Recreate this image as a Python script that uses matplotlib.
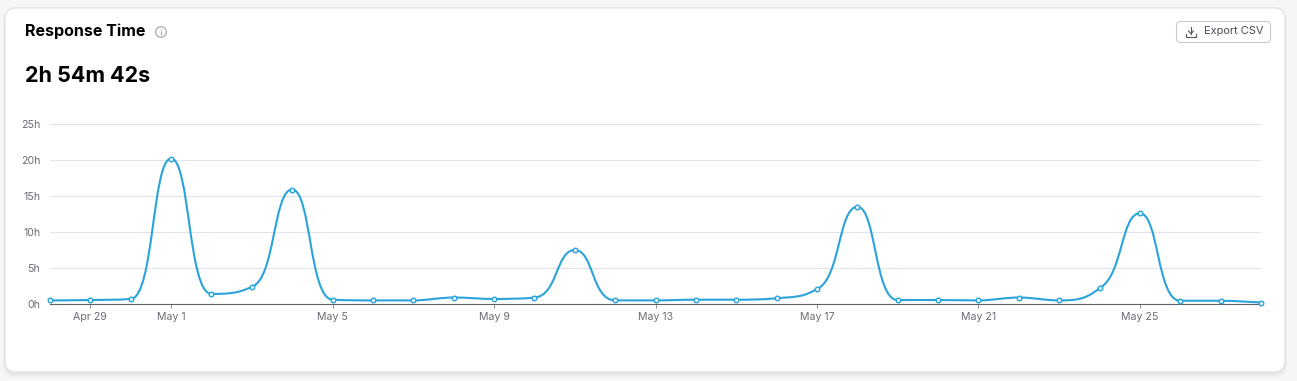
import matplotlib
matplotlib.use("Agg")
import matplotlib.pyplot as plt
import matplotlib.dates as mdates
from matplotlib.patches import FancyBboxPatch, Circle, PathPatch
from matplotlib.path import Path
from datetime import datetime, timedelta

plt.rcParams['font.family'] = ['Inter', 'DejaVu Sans']

W, H = 1297, 381

# one value per day, in hours
start_day = datetime(2024, 4, 28)
hours = [0.5, 0.55, 0.7, 20.2, 1.4, 2.4, 15.9, 0.6, 0.5, 0.5, 0.9, 0.7, 0.9, 7.5, 0.5, 0.5,
         0.6, 0.6, 0.8, 2.1, 13.5, 0.55, 0.55, 0.5, 0.9, 0.5, 2.2, 12.6, 0.45, 0.45, 0.2]
days = [start_day + timedelta(days=i) for i in range(len(hours))]

y_ticks = [0, 5, 10, 15, 20, 25]
y_labels = ["0h", "5h", "10h", "15h", "20h", "25h"]
x_tick_days = [datetime(2024, 4, 29), datetime(2024, 5, 1), datetime(2024, 5, 5), datetime(2024, 5, 9),
               datetime(2024, 5, 13), datetime(2024, 5, 17), datetime(2024, 5, 21), datetime(2024, 5, 25)]
x_labels = ["Apr 29", "May 1", "May 5", "May 9", "May 13", "May 17", "May 21", "May 25"]

title = "Response Time"
total = "2h 54m 42s"
button = "Export CSV"

LINE = "#2aa3db"
GRID = "#dfe3ee"
LABEL = "#6c6c76"


def handle_size(y, i, j):
    # peaks get medium handles, the foot of a tall segment a long one, anything else short
    if 0 < i < len(y) - 1 and y[i] > y[i - 1] and y[i] > y[i + 1] and abs(y[i] - y[j]) > 3:
        return 0.47
    if abs(y[i] - y[j]) > 3:
        return 0.58
    return 0.36


def spline_path(x, y):
    # spline with clamped handles so the curve makes no false extremes
    n = len(x)
    left = [None] * n
    right = [None] * n
    for i in range(1, n - 1):
        h0 = x[i] - x[i - 1]
        h1 = x[i + 1] - x[i]
        ly = (1.5 * y[i] + y[i - 1]) / 2.5
        ry = (1.5 * y[i] + y[i + 1]) / 2.5
        c = (ry - ly) * 0.4 * h1 / (0.4 * h1 + 0.4 * h0) + y[i] - ry
        ly += c
        ry += c
        if ly > max(y[i - 1], y[i]):
            ly = max(y[i - 1], y[i])
            ry = 2 * y[i] - ly
        elif ly < min(y[i - 1], y[i]):
            ly = min(y[i - 1], y[i])
            ry = 2 * y[i] - ly
        if ry > max(y[i + 1], y[i]):
            ry = max(y[i + 1], y[i])
            ly = 2 * y[i] - ry
        elif ry < min(y[i + 1], y[i]):
            ry = min(y[i + 1], y[i])
            ly = 2 * y[i] - ry
        left[i] = (x[i] - handle_size(y, i, i - 1) * h0, ly)
        right[i] = (x[i] + handle_size(y, i, i + 1) * h1, ry)
    left[-1] = (x[-1], y[-1])
    right[0] = (x[0], y[0])
    verts = [(x[0], y[0])]
    codes = [Path.MOVETO]
    for i in range(n - 1):
        verts += [right[i], left[i + 1], (x[i + 1], y[i + 1])]
        codes += [Path.CURVE4] * 3
    return Path(verts, codes)


fig = plt.figure(figsize=(W / 100, H / 100), dpi=100, facecolor="#f6f6f6")

# page layer in pixel coordinates
bg = fig.add_axes([0, 0, 1, 1])
bg.set_xlim(0, W)
bg.set_ylim(H, 0)
bg.axis("off")

for grow, alpha in [(5, 0.012), (3.5, 0.02), (2, 0.03)]:
    bg.add_patch(FancyBboxPatch((5 - grow / 2, 10), 1280 + grow, 363 + grow, boxstyle="round,pad=0,rounding_size=13",
                                fc="black", ec="none", alpha=alpha))
bg.add_patch(FancyBboxPatch((5, 8), 1280, 364, boxstyle="round,pad=0,rounding_size=11",
                            fc="white", ec="#e0e0e3", lw=0.8))

bg.text(25, 31.5, title, fontsize=11.55, fontweight="bold", color="black", ha="left", va="center")
bg.text(25, 76.5, total, fontsize=15.5, fontweight="bold", color="black", ha="left", va="center")

# info icon
bg.add_patch(Circle((161, 32), 5.3, fc="none", ec="#a9a9b2", lw=0.9))
bg.plot([161, 161], [31, 35], color="#a9a9b2", lw=0.9, solid_capstyle="butt")
bg.plot([161, 161], [28.6, 29.5], color="#a9a9b2", lw=0.9, solid_capstyle="butt")

# export button
bg.add_patch(FancyBboxPatch((1176.5, 21.5), 94, 21, boxstyle="round,pad=0,rounding_size=4",
                            fc="white", ec="#c8c8d0", lw=0.8))
bg.plot([1191, 1191], [27, 33.5], color="#55555f", lw=0.8)
bg.plot([1188.5, 1191, 1193.5], [31, 33.8, 31], color="#55555f", lw=0.8)
bg.plot([1186, 1186, 1196, 1196], [34, 36.5, 36.5, 34], color="#55555f", lw=0.8)
bg.text(1204.5, 31.5, button, fontsize=7.9, color="#4a4a58", ha="left", va="center")

# chart
left, right, top, bottom = 50, 1261, 124, 304
ax = fig.add_axes([left / W, 1 - bottom / H, (right - left) / W, (bottom - top) / H])
ax.patch.set_alpha(0)
ax.set_xlim(days[0], days[-1])
ax.set_ylim(0, 25)

ax.set_yticks(y_ticks)
ax.set_yticklabels(y_labels)
ax.set_xticks(x_tick_days)
ax.set_xticklabels(x_labels)
ax.tick_params(axis="y", length=0, pad=7, labelsize=7.6, labelcolor=LABEL)
ax.tick_params(axis="x", length=3.2, width=0.7, color="#8a8a92", pad=2.5, labelsize=7.6, labelcolor=LABEL)
ax.grid(axis="y", color=GRID, lw=0.8)
ax.set_axisbelow(True)
for side in ["top", "left", "right"]:
    ax.spines[side].set_visible(False)
ax.spines["bottom"].set_color("#5f5f68")
ax.spines["bottom"].set_linewidth(0.8)

nums = [mdates.date2num(d) for d in days]
ax.add_patch(PathPatch(spline_path(nums, hours), fc="none", ec=LINE, lw=1.5, clip_on=False))
ax.plot(days, hours, ls="none", marker="o", ms=3.3, mfc="#e8f5fb", mec=LINE, mew=1.0, clip_on=False, zorder=3)

fig.savefig("out.png", dpi=100, facecolor=fig.get_facecolor())
